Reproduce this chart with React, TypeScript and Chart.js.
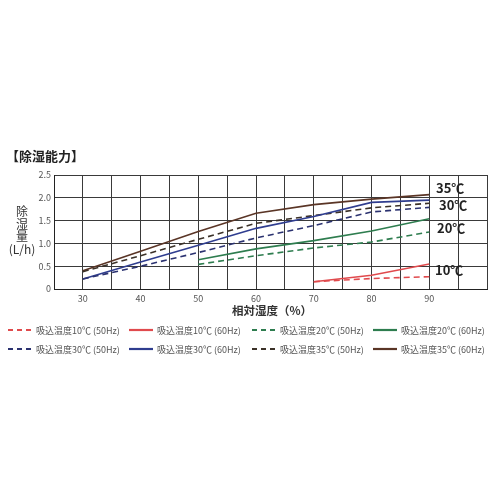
import React, { useEffect, useRef } from 'react';
import Chart from 'chart.js/auto';

// relative humidity (%) where readings were taken
const humidity = [30, 40, 50, 60, 70, 80, 90];

// dehumidifying amount (L/h) per intake temperature / frequency
const t10at50 = [null, null, null, null, 0.16, 0.23, 0.27];
const t10at60 = [null, null, null, null, 0.16, 0.3, 0.55];
const t20at50 = [null, null, 0.54, 0.73, 0.9, 1.03, 1.25];
const t20at60 = [null, null, 0.64, 0.88, 1.06, 1.27, 1.54];
const t30at50 = [0.22, 0.5, 0.8, 1.12, 1.39, 1.69, 1.79];
const t30at60 = [0.22, 0.59, 0.96, 1.33, 1.59, 1.9, 1.95];
const t35at50 = [0.38, 0.73, 1.09, 1.44, 1.61, 1.78, 1.88];
const t35at60 = [0.4, 0.83, 1.26, 1.66, 1.85, 1.97, 2.07];

const seriesLabels = [
  '吸込温度10℃ (50Hz)',
  '吸込温度10℃ (60Hz)',
  '吸込温度20℃ (50Hz)',
  '吸込温度20℃ (60Hz)',
  '吸込温度30℃ (50Hz)',
  '吸込温度30℃ (60Hz)',
  '吸込温度35℃ (50Hz)',
  '吸込温度35℃ (60Hz)',
];
const seriesValues = [t10at50, t10at60, t20at50, t20at60, t30at50, t30at60, t35at50, t35at60];
const seriesColors = ['#e04a4d', '#e04a4d', '#2e7d4f', '#2e7d4f', '#2b3270', '#2f3d8f', '#3b3128', '#5a3526'];
const seriesDashed = [true, false, true, false, true, false, true, false];

const tempLabels = ['35℃', '30℃', '20℃', '10℃'];

const FONT = '"Noto Sans CJK JP", "Noto Sans", sans-serif';

function App() {
  const canvasRef = useRef<HTMLCanvasElement | null>(null);

  useEffect(() => {
    if (!canvasRef.current) return;
    const chart = new Chart(canvasRef.current, {
      type: 'line',
      data: {
        datasets: seriesValues.map((vals, i) => ({
          label: seriesLabels[i],
          data: humidity
            .map((h, j) => ({ x: h, y: vals[j] }))
            .filter((p) => p.y !== null),
          borderColor: seriesColors[i],
          borderWidth: 1.6,
          borderDash: seriesDashed[i] ? [6, 4] : [],
          pointRadius: 0,
          tension: 0,
          fill: false,
        })),
      },
      options: {
        responsive: false,
        maintainAspectRatio: false,
        animation: false,
        layout: { padding: { left: 0, top: 175, right: 13, bottom: 0 } },
        plugins: {
          legend: { display: false },
          tooltip: { enabled: false },
        },
        scales: {
          x: {
            type: 'linear',
            min: 25,
            max: 100,
            afterFit: (s: any) => {
              s.height = 211;
            },
            ticks: {
              stepSize: 5,
              autoSkip: false,
              maxRotation: 0,
              padding: 4,
              color: '#555',
              font: { family: FONT, size: 9 },
              callback: (v: any) => (v % 10 === 0 && v >= 30 && v <= 90 ? String(v) : ''),
            },
            grid: { color: '#3a3a3a', lineWidth: 1, drawTicks: false },
            border: { color: '#222', width: 1 },
          },
          y: {
            min: 0,
            max: 2.5,
            afterFit: (s: any) => {
              s.width = 54;
            },
            ticks: {
              stepSize: 0.5,
              padding: 3,
              color: '#555',
              font: { family: FONT, size: 9 },
            },
            grid: { color: '#3a3a3a', lineWidth: 1, drawTicks: false },
            border: { color: '#222', width: 1 },
          },
        },
      },
    } as any);
    return () => chart.destroy();
  }, []);

  const tempPos = [
    { left: 436, top: 188 },
    { left: 439, top: 205 },
    { left: 437, top: 228 },
    { left: 435, top: 270 },
  ];

  return (
    <div style={{ position: 'absolute', left: 0, top: 0, width: 500, height: 500, background: '#fff', fontFamily: FONT }}>
      <canvas ref={canvasRef} width={500} height={500} style={{ position: 'absolute', left: 0, top: 0, width: 500, height: 500 }} />
      <div style={{ position: 'absolute', left: 6, top: 147, fontSize: 13, fontWeight: 700, color: '#222', lineHeight: '18px' }}>
        【除湿能力】
      </div>
      <div style={{ position: 'absolute', left: 2, top: 205, width: 40, textAlign: 'center', fontSize: 12, color: '#333', lineHeight: '12.5px' }}>
        <div>除</div>
        <div>湿</div>
        <div>量</div>
        <div>(L/h)</div>
      </div>
      <div style={{ position: 'absolute', left: 200, top: 302, width: 144, textAlign: 'center', fontSize: 11.5, fontWeight: 700, color: '#333', lineHeight: '16px' }}>
        相対湿度（%）
      </div>
      {tempLabels.map((t, i) => (
        <div
          key={t}
          style={{ position: 'absolute', left: tempPos[i].left, top: tempPos[i].top - 9, fontSize: 13, fontWeight: 700, color: '#222', lineHeight: '18px' }}
        >
          {t}
        </div>
      ))}
      {seriesLabels.map((lab, i) => {
        const col = i % 4;
        const row = Math.floor(i / 4);
        const lefts = [7, 128, 251, 372];
        return (
          <div
            key={lab}
            style={{ position: 'absolute', left: lefts[col], top: 323 + row * 19, display: 'flex', alignItems: 'center', height: 14, whiteSpace: 'nowrap' }}
          >
            <svg width={26} height={6} style={{ marginRight: 3 }}>
              <line
                x1={1}
                y1={3}
                x2={25}
                y2={3}
                stroke={seriesColors[i]}
                strokeWidth={2.2}
                strokeDasharray={seriesDashed[i] ? '5,4' : undefined}
              />
            </svg>
            <span style={{ fontSize: 9, color: '#555' }}>{lab}</span>
          </div>
        );
      })}
    </div>
  );
}

export default App;
